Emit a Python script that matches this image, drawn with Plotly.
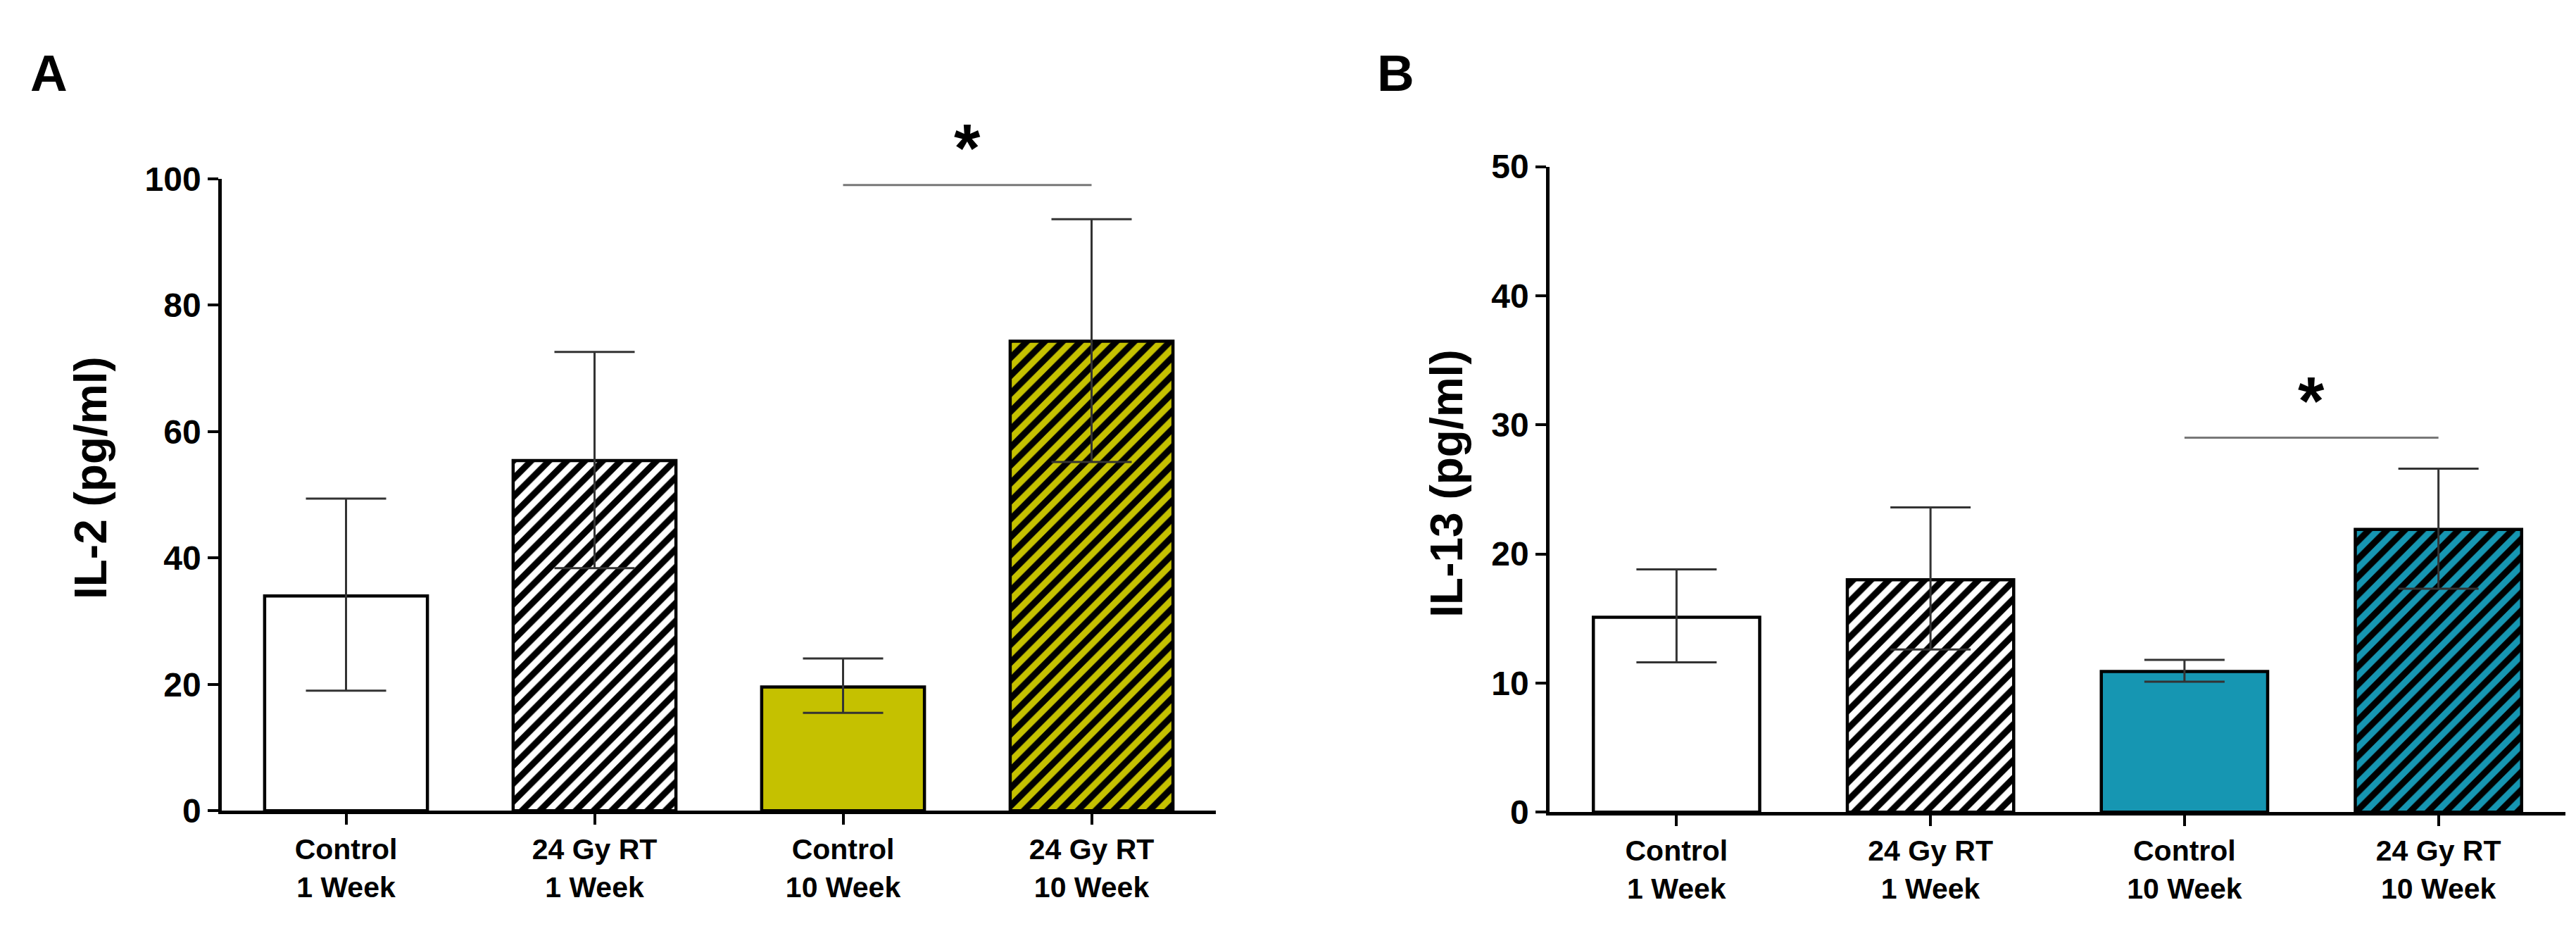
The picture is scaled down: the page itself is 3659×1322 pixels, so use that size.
import plotly.graph_objects as go

# groupes (axe x commun aux deux panneaux)
groups = ["Control<br>1 Week", "24 Gy RT<br>1 Week", "Control<br>10 Week", "24 Gy RT<br>10 Week"]
hatched = [False, True, False, True]

# Panneau A : IL-2 (pg/ml)
il2_mean = [34.0, 55.4, 19.6, 74.3]
il2_high = [49.4, 72.6, 24.1, 93.6]
il2_low = [19.0, 38.4, 15.5, 55.2]
il2_sig = (2, 3, 99)

# Panneau B : IL-13 (pg/ml)
il13_mean = [15.1, 18.0, 10.9, 21.9]
il13_high = [18.8, 23.6, 11.8, 26.6]
il13_low = [11.6, 12.6, 10.1, 17.3]
il13_sig = (2, 3, 29)

W, H = 3659, 1322
FONT = "Liberation Sans, Arial, sans-serif"
OLIVE = "#C5C100"
TEAL = "#1696B2"


def add_bars(fig, mean, high, low, color, xa, ya):
    fills = ["white", "white", color, color]
    for i, m in enumerate(mean):
        marker = dict(color=fills[i], line=dict(color="black", width=4.5))
        if hatched[i]:
            marker["pattern"] = dict(shape="/", fillmode="replace", bgcolor=fills[i],
                                     fgcolor="black", fgopacity=1, size=18, solidity=0.5)
        fig.add_trace(go.Bar(
            x=[i], y=[m], width=0.655, xaxis=xa, yaxis=ya,
            marker=marker,
            error_y=dict(type="data", symmetric=False,
                         array=[high[i] - m], arrayminus=[m - low[i]],
                         color="#333333", thickness=3, width=57),
            showlegend=False, hoverinfo="skip",
        ))


fig = go.Figure()
add_bars(fig, il2_mean, il2_high, il2_low, OLIVE, "x", "y")
add_bars(fig, il13_mean, il13_high, il13_low, TEAL, "x2", "y2")

xcommon = dict(
    range=[-0.5, 3.5], tickvals=[0, 1, 2, 3], ticktext=groups,
    showline=True, linecolor="black", linewidth=4.5,
    ticks="outside", ticklen=15, tickwidth=4, tickcolor="black",
    showgrid=False, zeroline=False,
    tickfont=dict(family=FONT, size=41, color="black", weight="bold"),
)
ycommon = dict(
    showline=True, linecolor="black", linewidth=4.5,
    ticks="outside", ticklen=15, tickwidth=4, tickcolor="black",
    showgrid=False, zeroline=False,
    tickfont=dict(family=FONT, size=48, color="black", weight="bold"),
)

fig.update_layout(
    width=W, height=H,
    margin=dict(l=0, r=0, t=0, b=0),
    paper_bgcolor="white", plot_bgcolor="white",
    barmode="overlay",
    xaxis=dict(domain=[307 / W, 1719 / W], anchor="y", **xcommon),
    yaxis=dict(domain=[(H - 1164) / H, (H - 229) / H], range=[0, 100], dtick=20,
               anchor="x", **ycommon),
    xaxis2=dict(domain=[2193 / W, 3636 / W], anchor="y2", **xcommon),
    yaxis2=dict(domain=[(H - 1166) / H, (H - 211) / H], range=[0, 50], dtick=10,
                anchor="x2", **ycommon),
)

# barres de significativité + étoile
for (a, b, y), xr, yr in [(il2_sig, "x", "y"), (il13_sig, "x2", "y2")]:
    fig.add_shape(type="line", x0=a, x1=b, y0=y, y1=y, xref=xr, yref=yr,
                  line=dict(color="#777777", width=3))
    fig.add_annotation(x=(a + b) / 2, y=y, xref=xr, yref=yr, text="*",
                       showarrow=False, yanchor="middle", yshift=53,
                       font=dict(family=FONT, size=96, color="black", weight="bold"))

# titres des axes y
fig.add_annotation(x=121 / W, y=(H - 672) / H, xref="paper", yref="paper",
                   text="IL-2 (pg/ml)", textangle=-90, showarrow=False,
                   xanchor="center", yanchor="middle",
                   font=dict(family=FONT, size=64, color="black", weight="bold"))
fig.add_annotation(x=2047 / W, y=(H - 680) / H, xref="paper", yref="paper",
                   text="IL-13 (pg/ml)", textangle=-90, showarrow=False,
                   xanchor="center", yanchor="middle",
                   font=dict(family=FONT, size=64, color="black", weight="bold"))

# lettres des panneaux
for letter, x in [("A", 33), ("B", 1946)]:
    fig.add_annotation(x=x / W, y=1 - 28 / H, xref="paper", yref="paper",
                       text=letter, showarrow=False, xanchor="left", yanchor="top",
                       font=dict(family=FONT, size=73, color="black", weight="bold"))

fig.write_html("out.html")
